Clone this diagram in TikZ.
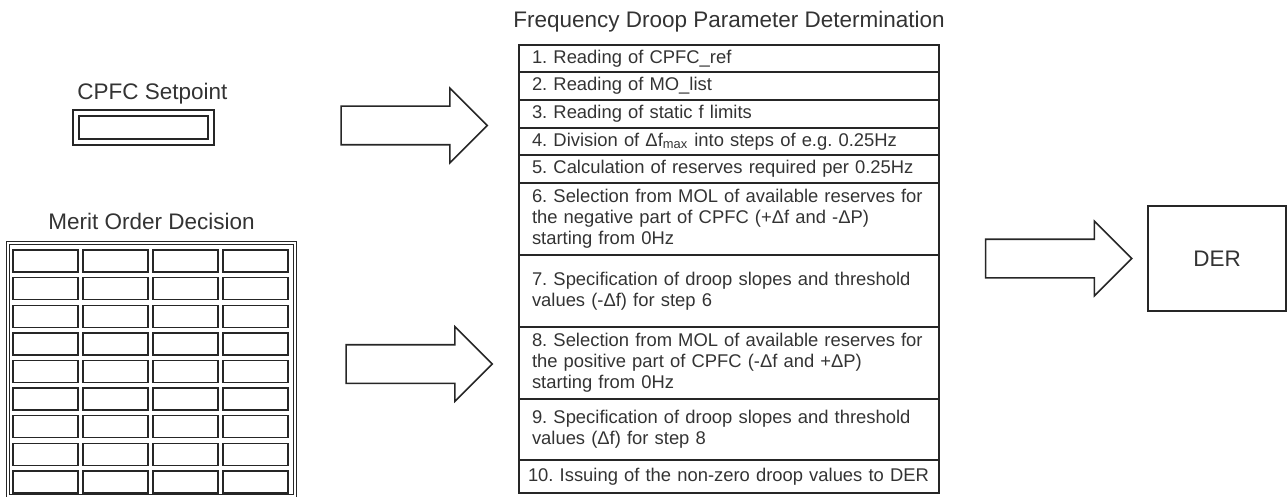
\documentclass[tikz,border=0pt]{standalone}
\usepackage{fontspec}
\setmainfont{Liberation Sans}
\usetikzlibrary{positioning,shapes.arrows}
\def\rowwidth{197pt}

\begin{document}
\begin{tikzpicture}[x=0.5pt,y=-0.5pt,draw=black!85,text=black!80,line width=0.7pt]
    \tikzstyle{label text}=[font=\fontsize{11.25}{13}\selectfont,inner sep=0pt]
    \tikzstyle{steprow}=[draw,rectangle,text width=\rowwidth,inner xsep=6.5pt,inner ysep=1pt,outer sep=0pt,align=left,font=\fontsize{9.2}{10.5}\selectfont\frenchspacing]
    \tikzstyle{cell}=[draw,rectangle,minimum width=32.5pt,minimum height=11pt,inner sep=0pt]
    \tikzstyle{block arrow}=[draw,single arrow,single arrow head extend=9pt,minimum height=73pt,inner xsep=0pt,inner ysep=9.25pt,line width=0.8pt]

    \useasboundingbox (0,0) rectangle (1288,497);

    % Draw the setpoint box
    \node[draw,minimum width=70.5pt,minimum height=17.5pt,inner sep=0pt] (sp) at (143.5,127.5) {};
    \node[draw,minimum width=64.5pt,minimum height=11.5pt,inner sep=0pt] (sp-in) at (sp.center) {};
    \node[label text,above=2pt of sp,xshift=4.5pt] (sp-title) {CPFC Setpoint};

    % Draw the merit order grid
    \node[draw,double,double distance=0.6pt,line width=0.8pt,minimum width=143.5pt,minimum height=126.5pt,inner sep=0pt] (mod) at (151.5,369.5) {};
    \foreach \r in {0,...,8}
        \foreach \c in {0,...,3}
            \node[cell] (c-\r-\c) at ({45.5+70*\c},{261+27.6*\r}) {};
    \node[label text,above=6pt of mod] (mod-title) {Merit Order Decision};

    % Draw the steps of the droop parameter determination
    \node[steprow,anchor=north west,minimum height=13.5pt] (r1) at (519,45) {1. Reading of CPFC\_ref};
    \node[steprow,minimum height=14pt,below=0pt of r1] (r2) {2. Reading of MO\_list};
    \node[steprow,minimum height=14pt,below=0pt of r2] (r3) {3. Reading of static f limits};
    \node[steprow,minimum height=13.5pt,below=0pt of r3] (r4) {4. Division of Δf\textsubscript{max} into steps of e.g. 0.25Hz};
    \node[steprow,minimum height=14pt,below=0pt of r4] (r5) {5. Calculation of reserves required per 0.25Hz};
    \node[steprow,minimum height=36pt,below=0pt of r5] (r6) {6. Selection from MOL of available reserves for\\the negative part of CPFC (+Δf and -ΔP)\\starting from 0Hz};
    \node[steprow,minimum height=36pt,below=0pt of r6] (r7) {7. Specification of droop slopes and threshold\\values (-Δf) for step 6};
    \node[steprow,minimum height=36pt,below=0pt of r7] (r8) {8. Selection from MOL of available reserves for\\the positive part of CPFC (-Δf and +ΔP)\\starting from 0Hz};
    \node[steprow,minimum height=30.5pt,below=0pt of r8] (r9) {9. Specification of droop slopes and threshold\\values (Δf) for step 8};
    \node[steprow,minimum height=16.5pt,text width=201pt,inner xsep=4.5pt,below=0pt of r9] (r10) {10. Issuing of the non-zero droop values to DER};
    \node[label text,above=6pt of r1] (fdpd-title) {Frequency Droop Parameter Determination};

    % Draw the DER box
    \node[draw,minimum width=69pt,minimum height=52.5pt,label text] (der) at (1217,258.5) {DER};

    % Block arrows between the parts
    \node[block arrow] (a-sp) at (404.5,125.5) {};
    \node[block arrow] (a-mo) at (409.5,364) {};
    \node[block arrow] (a-der) at (1049,258.5) {};
\end{tikzpicture}
\end{document}
